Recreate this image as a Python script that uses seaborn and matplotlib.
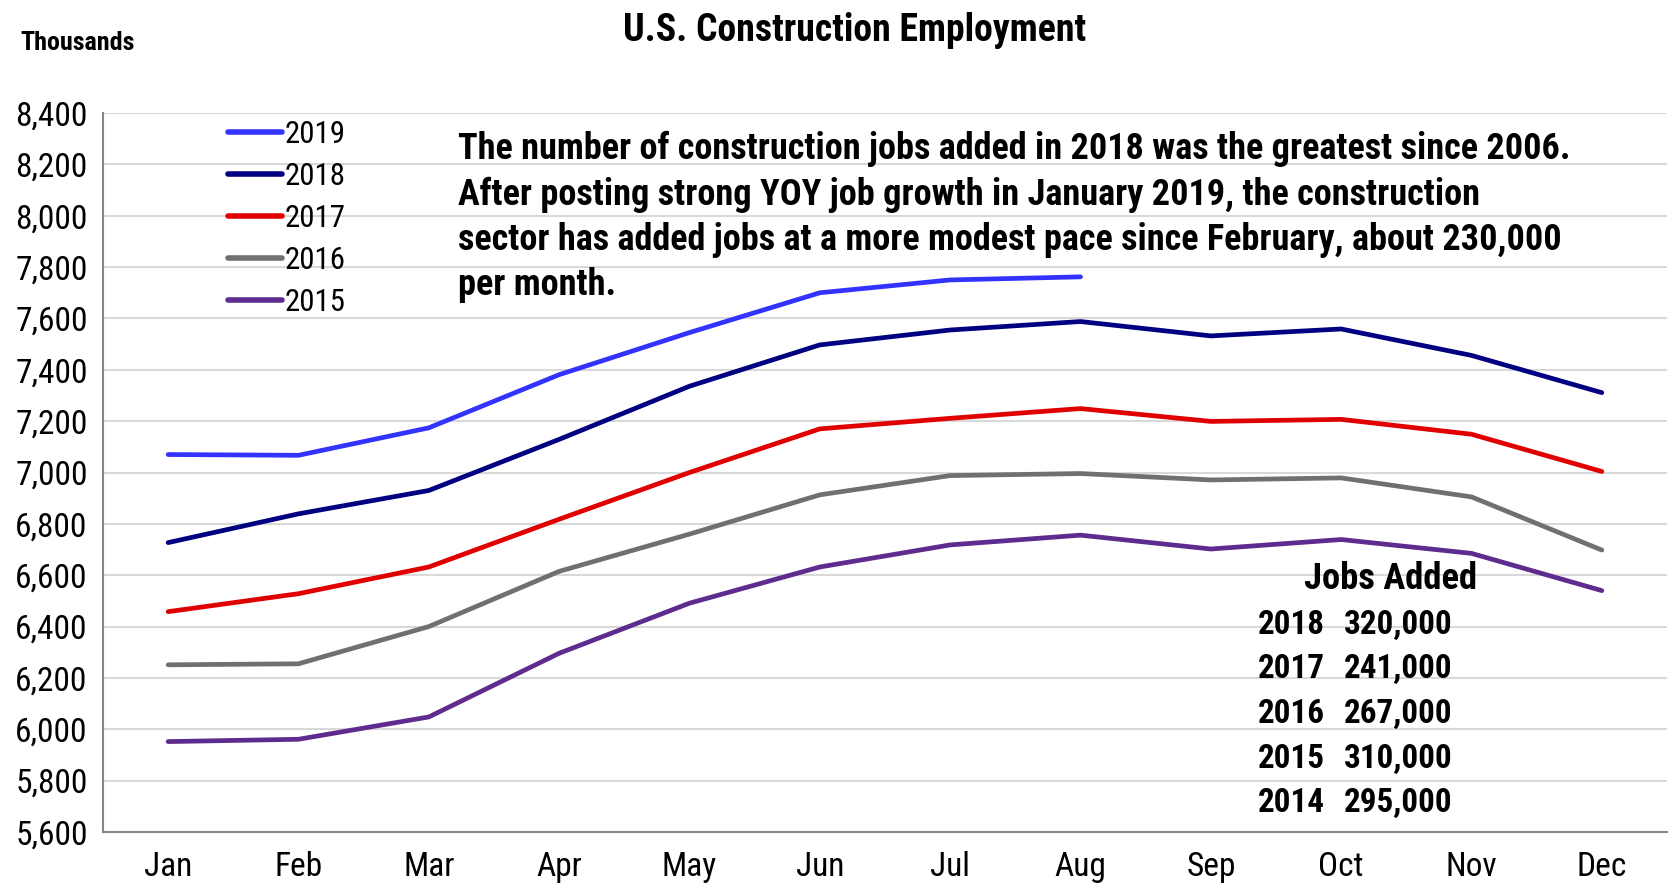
import numpy as np
import pandas as pd
import matplotlib
matplotlib.use("Agg")
import matplotlib.pyplot as plt
import matplotlib.font_manager as fm
import seaborn as sns
from matplotlib.ticker import FuncFormatter

months = ["Jan", "Feb", "Mar", "Apr", "May", "Jun", "Jul", "Aug", "Sep", "Oct", "Nov", "Dec"]
y2019 = [7070, 7067, 7174, 7381, 7545, 7700, 7750, 7762]
y2018 = [6727, 6839, 6930, 7129, 7336, 7497, 7555, 7588, 7532, 7559, 7456, 7311]
y2017 = [6458, 6528, 6632, 6818, 7000, 7170, 7211, 7249, 7199, 7207, 7149, 7004]
y2016 = [6251, 6255, 6400, 6615, 6760, 6913, 6988, 6996, 6971, 6979, 6905, 6698]
y2015 = [5952, 5961, 6048, 6296, 6491, 6632, 6718, 6756, 6702, 6739, 6685, 6540]
years = ["2019", "2018", "2017", "2016", "2015"]
colors = ["#3333FF", "#000080", "#E00000", "#707070", "#5E2B8E"]
jobs_years = ["2018", "2017", "2016", "2015", "2014"]
jobs_added = ["320,000", "241,000", "267,000", "310,000", "295,000"]

series = {"2019": y2019, "2018": y2018, "2017": y2017, "2016": y2016, "2015": y2015}
rows = []
for yr, vals in series.items():
    for m, v in zip(months, vals):
        rows.append({"Month": m, "Value": v, "Year": yr})
df = pd.DataFrame(rows)


def pick_font():
    fl = fm.fontManager.ttflist
    names = {f.name for f in fl}
    pref = ["Liberation Sans Narrow", "Arial Narrow", "Roboto Condensed",
            "Open Sans Condensed", "Noto Sans Condensed", "DejaVu Sans Condensed"]
    for p in pref:
        if p in names:
            return p, "normal"
    for f in fl:
        n = f.name.lower()
        if ("narrow" in n or "condensed" in n) and "mono" not in n and "serif" not in n:
            return f.name, "normal"
    for f in fl:
        if f.stretch in ("condensed", "semi-condensed") and f.name in (
                "Liberation Sans", "Noto Sans", "DejaVu Sans", "Open Sans", "Roboto"):
            return f.name, f.stretch
    return "Liberation Sans", "normal"


fam, stretch = pick_font()

sns.set_theme(style="white")
plt.rcParams["font.family"] = [fam, "DejaVu Sans"]
plt.rcParams["font.stretch"] = stretch
for k in ["text.color", "axes.labelcolor", "xtick.color", "ytick.color"]:
    plt.rcParams[k] = "black"

fig = plt.figure(figsize=(16.69, 8.88), dpi=100)
renderer = fig.canvas.get_renderer()


def size_for(s, target_px, weight="normal"):
    t = fig.text(0, 0, s, fontsize=20, fontweight=weight)
    w = t.get_window_extent(renderer).width
    t.remove()
    return 20 * target_px / w


tick_fs = size_for("8,400", 66) * 1.1
leg_fs = size_for("2019", 58) * 1.05
title_fs = size_for("U.S. Construction Employment", 462, "bold")
thou_fs = size_for("Thousands", 115, "bold")
note_fs = size_for("The number of construction jobs added in 2018 was the greatest since 2006.", 1110, "bold")
jobs_fs = size_for("2018", 67, "bold")
head_fs = size_for("Jobs Added", 173, "bold")

ax = fig.add_axes([0.0617, 0.0631, 0.9371, 0.8096])

sns.lineplot(data=df, x="Month", y="Value", hue="Year", hue_order=years,
             palette=dict(zip(years, colors)), linewidth=3.4, sort=False, ax=ax)

ax.set_xlim(-0.5, 11.5)
ax.set_ylim(5600, 8400)
ax.set_yticks(np.arange(5600, 8401, 200))
ax.yaxis.set_major_formatter(FuncFormatter(lambda v, p: f"{int(v):,}"))
ax.set_xticks(range(12))
ax.set_xticklabels(months)
ax.set_xticks(np.arange(-0.5, 12, 1), minor=True)
ax.tick_params(axis="x", which="major", length=0, pad=14, labelsize=tick_fs)
ax.tick_params(axis="x", which="minor", length=8, width=1.5, color="#888888", direction="out")
ax.tick_params(axis="y", which="major", length=8, width=1.5, color="#888888",
               labelsize=tick_fs, pad=3, direction="out")
ax.set_xlabel("")
ax.set_ylabel("")
ax.grid(axis="y", color="#D9D9D9", linewidth=1.5)
ax.set_axisbelow(True)
for s in ["top", "right"]:
    ax.spines[s].set_visible(False)
for s in ["left", "bottom"]:
    ax.spines[s].set_color("#888888")
    ax.spines[s].set_linewidth(1.5)

leg = ax.legend(loc="upper left", bbox_to_anchor=(0.072, 1.008), frameon=False,
                fontsize=leg_fs, handlelength=1.75, handletextpad=0.1, labelspacing=0.42,
                borderaxespad=0)
for line in leg.get_lines():
    line.set_linewidth(4)

fig.text(0.512, 0.966, "U.S. Construction Employment", ha="center", va="center",
         fontsize=title_fs, fontweight="bold")
fig.text(0.012, 0.952, "Thousands", ha="left", va="center", fontsize=thou_fs, fontweight="bold")

ax.text(0.227, 0.975,
        "The number of construction jobs added in 2018 was the greatest since 2006.\n"
        "After posting strong YOY job growth in January 2019, the construction\n"
        "sector has added jobs at a more modest pace since February, about 230,000\n"
        "per month.",
        transform=ax.transAxes, ha="left", va="top", fontsize=note_fs, fontweight="bold",
        linespacing=1.33)

ax.text(0.823, 0.352, "Jobs Added", transform=ax.transAxes, ha="center", va="center",
        fontsize=head_fs, fontweight="bold")
ypos = [0.2875, 0.2265, 0.1635, 0.1015, 0.040]
for yp, jy, ja in zip(ypos, jobs_years, jobs_added):
    ax.text(0.7385, yp, jy, transform=ax.transAxes, ha="left", va="center",
            fontsize=jobs_fs, fontweight="bold")
    ax.text(0.7937, yp, ja, transform=ax.transAxes, ha="left", va="center",
            fontsize=jobs_fs, fontweight="bold")

fig.savefig("out.png", dpi=100)
